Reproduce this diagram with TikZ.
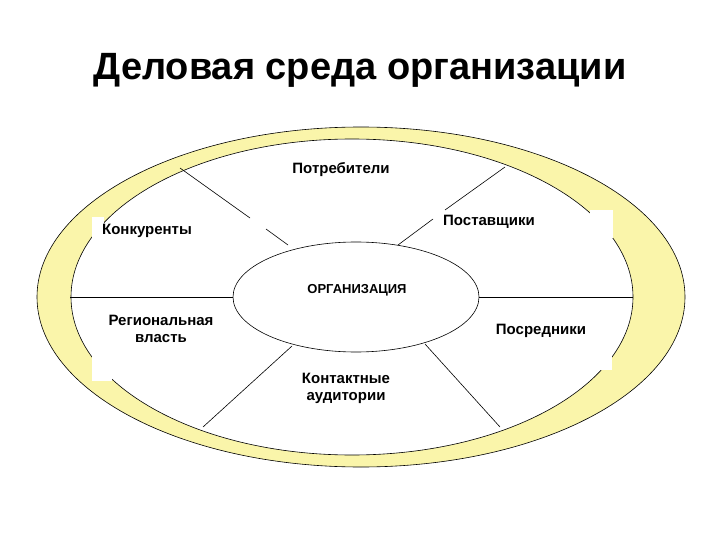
\documentclass[tikz,border=0pt]{standalone}
\usepackage{fontspec}
\setmainfont{Liberation Sans}
\usetikzlibrary{shapes.geometric}
\begin{document}
\begin{tikzpicture}[x=1pt,y=-1pt,
  lbl/.style={font=\bfseries\fontsize{15}{17}\selectfont, align=center, inner sep=1pt},
  ln/.style={draw=black, line width=0.6pt}]
\useasboundingbox (0,0) rectangle (720,540);
\fill[white] (0,0) rectangle (720,540);
\node[font=\bfseries\fontsize{38}{44}\selectfont] (title) at (360,70) {Деловая среда организации};
\draw[ln, fill={rgb,255:red,250;green,245;blue,170}] (361,297) ellipse [x radius=324, y radius=170];
\draw[ln, fill=white] (352,297) ellipse [x radius=281, y radius=158];
% white patches over ring
\fill[white] (92,217) rectangle (104,244);
\fill[white] (92,350) rectangle (112,381);
\fill[white] (590,210) rectangle (613,238);
\fill[white] (598,317) rectangle (612,370);
\node[ln, ellipse, minimum width=246pt, minimum height=110pt, inner sep=0] (org) at (356,297) {};
\coordinate (a1) at (70,297); \coordinate (b2) at (633,297);
\draw[ln] (a1) -- (org.west);
\draw[ln] (org.east) -- (b2);
\coordinate (c1) at (180,168); \coordinate (c2) at (250,218);
\coordinate (c3) at (266,229); \coordinate (c4) at (288,245);
\draw[ln] (c1) -- (c2); \draw[ln] (c3) -- (c4);
\coordinate (d1) at (505,167); \coordinate (d2) at (445,210);
\coordinate (d3) at (433,219); \coordinate (d4) at (398,245);
\draw[ln] (d1) -- (d2); \draw[ln] (d3) -- (d4);
\coordinate (e1) at (292,346); \coordinate (e2) at (203,427);
\draw[ln] (e1) -- (e2);
\coordinate (f1) at (425,344); \coordinate (f2) at (500,427);
\draw[ln] (f1) -- (f2);
\node[lbl] (p1) at (341,170) {Потребители};
\node[lbl] (p2) at (489,222) {Поставщики};
\node[lbl] (p3) at (147,231) {Конкуренты};
\node[lbl] (p4) at (161,329) {Региональная\\власть};
\node[lbl, font=\bfseries\fontsize{13}{15}\selectfont] (p5) at (357,290) {ОРГАНИЗАЦИЯ};
\node[lbl] (p6) at (541,331) {Посредники};
\node[lbl] (p7) at (346,388) {Контактные\\аудитории};
\end{tikzpicture}
\end{document}
